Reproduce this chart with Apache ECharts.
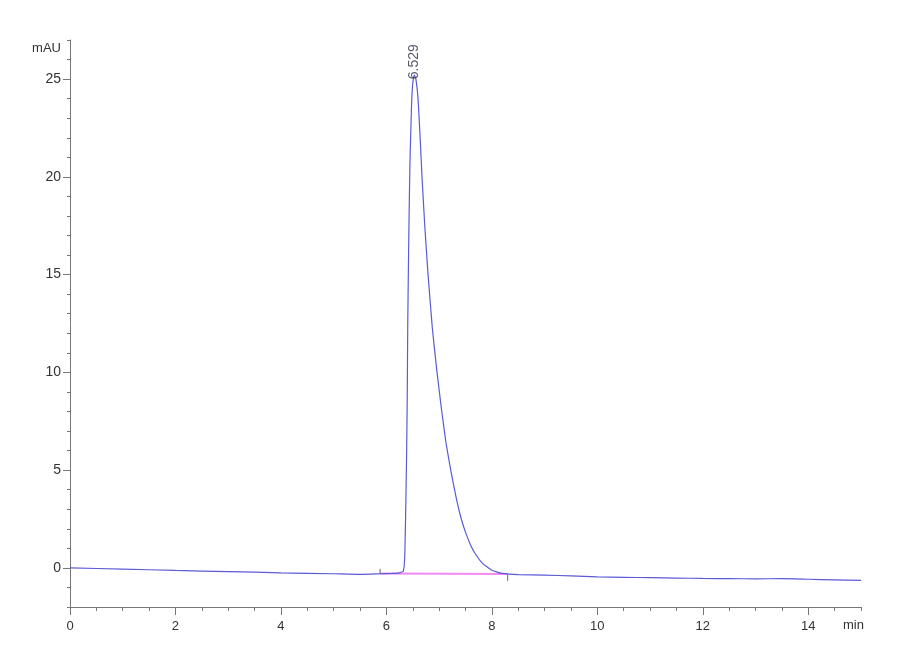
<!DOCTYPE html>
<html>
<head>
<meta charset="utf-8">
<title>Chromatogram</title>
<script src="https://cdn.jsdelivr.net/npm/echarts@6/dist/echarts.min.js"></script>
<style>
  html, body { margin: 0; padding: 0; background: #fff; }
  #chart { width: 900px; height: 660px; }
</style>
</head>
<body>
<div id="chart"></div>
<script>
// signal trace (min, mAU)
const times = [0, 1, 2, 3, 4, 5, 5.5, 5.88, 6.1, 6.25, 6.3, 6.32, 6.337, 6.35, 6.37, 6.385, 6.395, 6.405, 6.425, 6.445, 6.476, 6.5, 6.529,
    6.56, 6.6, 6.64, 6.675, 6.73, 6.79, 6.87, 6.96, 7.05, 7.13, 7.22, 7.33, 7.42, 7.506, 7.6, 7.68, 7.8, 7.9, 8.0, 8.09, 8.2,
    8.5, 9, 9.5, 10, 10.5, 11, 11.5, 12, 12.5, 13, 13.5, 14, 14.5, 15];
const absorbance = [0, -0.06, -0.13, -0.19, -0.25, -0.3, -0.33, -0.3, -0.28, -0.25, -0.2, -0.18, 0.1, 0.75, 3.5, 6.2, 8.6, 12.5, 17.0, 20.5, 23.6, 24.8, 25.2,
    25.0, 24.0, 22.0, 20.0, 17.4, 15.0, 12.3, 10.0, 8.0, 6.4, 5.0, 3.5, 2.5, 1.78, 1.15, 0.75, 0.3, 0.07, -0.12, -0.2, -0.28,
    -0.34, -0.37, -0.41, -0.46, -0.48, -0.5, -0.52, -0.54, -0.55, -0.56, -0.55, -0.58, -0.61, -0.64];

// peak annotation
const peakTimes = [6.529];
const peakHeights = [25.2];
const peakLabels = ['6.529'];

// integration baseline + start/end markers
const baselineTimes = [5.88, 8.3];
const baselineValues = [-0.29, -0.31];
const startMarker = [[5.88, -0.32], [5.88, -0.05]];
const endMarker = [[8.3, -0.33], [8.3, -0.66]];

// axis ticks
const xMajorTicks = [0, 2, 4, 6, 8, 10, 12, 14];
const yMajorTicks = [0, 5, 10, 15, 20, 25];

const FONT = "'Liberation Sans Narrow', 'Liberation Sans', Arial, sans-serif";
const AXIS_COLOR = '#777';
const TEXT_COLOR = '#333';

const chart = echarts.init(document.getElementById('chart'));

chart.setOption({
    animation: false,
    backgroundColor: '#fff',
    grid: { left: 70, right: 39, top: 40, bottom: 53 },
    xAxis: [
        {
            // minor ticks
            type: 'value', min: 0, max: 15, interval: 0.5, position: 'bottom',
            axisLine: { show: true, onZero: false, lineStyle: { color: AXIS_COLOR, width: 1 } },
            axisTick: { show: true, length: 4, lineStyle: { color: AXIS_COLOR } },
            axisLabel: { show: false },
            splitLine: { show: false }
        },
        {
            // major ticks + labels
            type: 'value', min: 0, max: 15, position: 'bottom', offset: 0,
            axisLine: { show: false, onZero: false },
            axisTick: { show: true, length: 8, customValues: xMajorTicks, lineStyle: { color: AXIS_COLOR } },
            axisLabel: { show: true, customValues: xMajorTicks, margin: 13, color: TEXT_COLOR, fontFamily: FONT, fontSize: 13 },
            splitLine: { show: false }
        }
    ],
    yAxis: [
        {
            type: 'value', min: -2, max: 27, interval: 1, position: 'left',
            axisLine: { show: true, onZero: false, lineStyle: { color: AXIS_COLOR, width: 1 } },
            axisTick: { show: true, length: 3, lineStyle: { color: AXIS_COLOR } },
            axisLabel: { show: false },
            splitLine: { show: false }
        },
        {
            type: 'value', min: -2, max: 27, position: 'left', offset: 0,
            axisLine: { show: false, onZero: false },
            axisTick: { show: true, length: 7, customValues: yMajorTicks, lineStyle: { color: AXIS_COLOR } },
            axisLabel: { show: true, customValues: yMajorTicks, margin: 9, color: TEXT_COLOR, fontFamily: FONT, fontSize: 14 },
            splitLine: { show: false }
        }
    ],
    graphic: [
        { type: 'text', right: 839, top: 42, style: { text: 'mAU', fill: TEXT_COLOR, font: '13px ' + FONT, textAlign: 'right' } },
        { type: 'text', left: 843, top: 619, style: { text: 'min', fill: TEXT_COLOR, font: '13px ' + FONT } }
    ],
    series: [
        {
            name: 'baseline',
            type: 'line',
            data: baselineTimes.map((t, i) => [t, baselineValues[i]]),
            symbol: 'none',
            lineStyle: { color: '#f28af2', width: 2 },
            z: 2
        },
        {
            name: 'start',
            type: 'line',
            data: startMarker,
            symbol: 'none',
            lineStyle: { color: '#666', width: 1 },
            z: 3
        },
        {
            name: 'end',
            type: 'line',
            data: endMarker,
            symbol: 'none',
            lineStyle: { color: '#666', width: 1 },
            z: 3
        },
        {
            name: 'signal',
            type: 'line',
            data: times.map((t, i) => [t, absorbance[i]]),
            symbol: 'none',
            smooth: 0.15,
            lineStyle: { color: '#5b5bd6', width: 1.2 },
            z: 4
        },
        {
            name: 'peak',
            type: 'scatter',
            data: peakTimes.map((t, i) => ({ value: [t, peakHeights[i]], label: { formatter: peakLabels[i] } })),
            symbolSize: 0,
            label: {
                show: true,
                position: 'top',
                rotate: 90,
                align: 'left',
                verticalAlign: 'middle',
                distance: -4,
                color: '#2e2e4a',
                fontFamily: "'Liberation Sans', Arial, sans-serif",
                fontSize: 14
            },
            z: 5
        }
    ]
});
</script>
</body>
</html>
